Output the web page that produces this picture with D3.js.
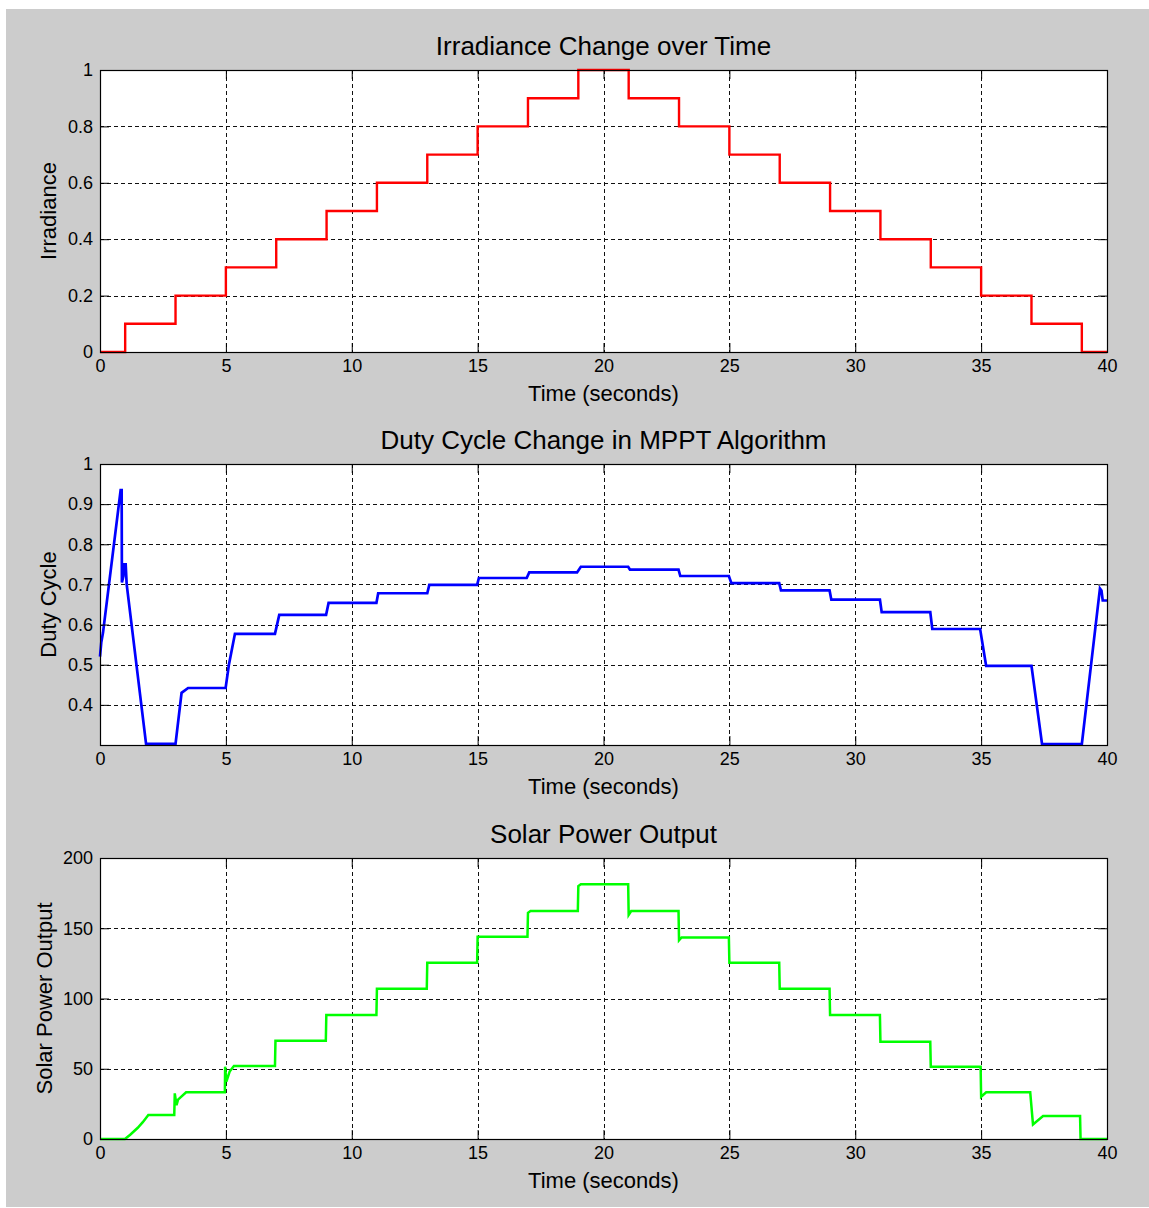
<!DOCTYPE html>
<html>
<head>
<meta charset="utf-8">
<script src="https://cdn.jsdelivr.net/npm/d3@7"></script>
<style>
  html, body { margin: 0; padding: 0; background: #ffffff; }
  svg { display: block; }
  text { font-family: "Liberation Sans", Arial, sans-serif; fill: #000; }
</style>
</head>
<body>
<svg id="chart" width="1149" height="1208"></svg>
<script>
// ---------- DATA ----------
const xTicks = [0, 5, 10, 15, 20, 25, 30, 35, 40];

// Irradiance (step after)
const irrTime  = [0, 1, 3, 5, 7, 9, 11, 13, 15, 17, 19, 21, 23, 25, 27, 29, 31, 33, 35, 37, 39, 40];
const irrValue = [0, 0.1, 0.2, 0.3, 0.4, 0.5, 0.6, 0.7, 0.8, 0.9, 1.0, 0.9, 0.8, 0.7, 0.6, 0.5, 0.4, 0.3, 0.2, 0.1, 0, 0];
const irrTicks = [0, 0.2, 0.4, 0.6, 0.8, 1];
const irrTickLabels = ["0", "0.2", "0.4", "0.6", "0.8", "1"];

// Duty cycle
const dutyTime  = [0, 0.05, 0.12, 0.82, 0.86, 0.87, 0.93, 0.96, 1.02, 1.06, 1.83, 3.0, 3.24, 3.5, 4.99, 5.12, 5.36, 6.95, 7.12,
                   8.98, 9.08, 10.98, 11.05, 13.0, 13.08, 14.98, 15.05, 16.95, 17.05, 18.95, 19.1, 20.98, 21.05,
                   22.98, 23.05, 24.98, 25.08, 26.98, 27.05, 28.98, 29.05, 30.98, 31.05, 32.98, 33.06, 34.96, 35.2,
                   37.0, 37.42, 39.0, 39.72, 39.78, 39.83, 40];
const dutyValue = [0.52, 0.555, 0.58, 0.935, 0.935, 0.705, 0.72, 0.75, 0.75, 0.70, 0.303, 0.303, 0.43, 0.442, 0.442, 0.50, 0.577, 0.577, 0.624,
                   0.624, 0.654, 0.654, 0.678, 0.678, 0.699, 0.699, 0.716, 0.716, 0.730, 0.730, 0.744, 0.744, 0.737,
                   0.737, 0.721, 0.721, 0.703, 0.703, 0.685, 0.685, 0.662, 0.662, 0.631, 0.631, 0.589, 0.589, 0.497,
                   0.497, 0.302, 0.302, 0.69, 0.685, 0.66, 0.66];
const dutyTicks = [0.4, 0.5, 0.6, 0.7, 0.8, 0.9, 1];
const dutyTickLabels = ["0.4", "0.5", "0.6", "0.7", "0.8", "0.9", "1"];

// Solar power output
const powTime  = [0, 0.99, 1.2, 1.5, 1.7, 1.92, 2.95, 2.97, 3.04, 3.1, 3.42, 4.96, 4.97, 5.02, 5.15, 5.32, 6.95, 6.97,
                  8.97, 8.99, 10.98, 11.0, 12.98, 13.0, 14.98, 15.0, 16.98, 17.0, 17.1, 18.98, 19.0, 19.1, 20.98, 21.0, 21.1,
                  22.98, 23.0, 23.1, 24.98, 25.0, 26.98, 27.0, 28.98, 29.0, 30.98, 31.0, 32.98, 33.0, 34.98, 35.0, 35.2,
                  36.95, 37.06, 37.46, 38.93, 38.95, 40];
const powValue = [0, 0, 3, 8, 12, 17.1, 17.1, 32.5, 24, 28, 33.2, 33.2, 51.5, 40.8, 48, 52, 52, 70,
                  70, 88.3, 88.3, 107, 107, 125.5, 125.5, 144, 144, 161, 162.3, 162.3, 180, 181.3, 181.3, 159.5, 162.3,
                  162.3, 141.5, 143.5, 143.5, 125.5, 125.5, 107, 107, 88.3, 88.3, 69.3, 69.3, 51.5, 51.5, 30.1, 33.2,
                  33.2, 10.4, 16.4, 16.4, 0, 0];
const powTicks = [0, 50, 100, 150, 200];
const powTickLabels = ["0", "50", "100", "150", "200"];

// ---------- DRAW ----------
const svg = d3.select("#chart");
svg.append("rect").attr("x", 6).attr("y", 9).attr("width", 1143).attr("height", 1198).attr("fill", "#cccccc");

const left = 100, right = 1107;
const x = d3.scaleLinear().domain([0, 40]).range([left, right]);

function panel(opts) {
  const { top, bottom, yDomain, yTicks, yLabels, times, values, color, width, curve, title, ylabel, ylabelX } = opts;
  const y = d3.scaleLinear().domain(yDomain).range([bottom, top]);
  const g = svg.append("g");
  g.append("rect").attr("x", left).attr("y", top).attr("width", right - left).attr("height", bottom - top).attr("fill", "#fff");

  // grid
  const grid = g.append("g").attr("stroke", "#111").attr("stroke-width", 1).attr("stroke-dasharray", "4,3").attr("shape-rendering", "crispEdges");
  xTicks.slice(1, -1).forEach(t => grid.append("line").attr("x1", Math.round(x(t)) + 0.5).attr("x2", Math.round(x(t)) + 0.5).attr("y1", top).attr("y2", bottom));
  yTicks.forEach(t => { if (y(t) > top + 1 && y(t) < bottom - 1) grid.append("line").attr("y1", Math.round(y(t)) + 0.5).attr("y2", Math.round(y(t)) + 0.5).attr("x1", left).attr("x2", right); });

  // data line
  const data = times.map((t, i) => [t, values[i]]);
  g.append("path").datum(data)
    .attr("d", d3.line().x(d => x(d[0])).y(d => y(d[1])).curve(curve))
    .attr("fill", "none").attr("stroke", color).attr("stroke-width", width).attr("stroke-linejoin", "miter");

  // axes (ticks inward on all sides)
  const tl = 9;
  const axB = g.append("g").attr("transform", `translate(0,${bottom})`)
    .call(d3.axisBottom(x).tickValues(xTicks).tickSize(-tl).tickPadding(7).tickFormat(d3.format("d")));
  const axT = g.append("g").attr("transform", `translate(0,${top})`)
    .call(d3.axisTop(x).tickValues(xTicks).tickSize(-tl).tickFormat(""));
  const axL = g.append("g").attr("transform", `translate(${left},0)`)
    .call(d3.axisLeft(y).tickValues(yTicks).tickSize(-tl).tickPadding(7).tickFormat((d, i) => yLabels[i]));
  const axR = g.append("g").attr("transform", `translate(${right},0)`)
    .call(d3.axisRight(y).tickValues(yTicks).tickSize(-tl).tickFormat(""));
  [axB, axT, axL, axR].forEach(a => {
    a.select(".domain").remove();
    a.selectAll("line").attr("stroke", "#000");
    a.selectAll("text").attr("font-size", 18).attr("font-family", '"Liberation Sans", Arial, sans-serif').attr("fill", "#000");
  });
  axB.selectAll("text").attr("dy", "0.71em");

  g.append("rect").attr("x", left + 0.5).attr("y", top + 0.5).attr("width", right - left).attr("height", bottom - top)
    .attr("fill", "none").attr("stroke", "#000").attr("stroke-width", 1.2);

  g.append("text").attr("x", (left + right) / 2).attr("y", top - 15).attr("text-anchor", "middle")
    .attr("font-size", 26).text(title);
  g.append("text").attr("x", (left + right) / 2).attr("y", bottom + 49).attr("text-anchor", "middle")
    .attr("font-size", 22).text("Time (seconds)");
  g.append("text").attr("transform", `translate(${ylabelX},${(top + bottom) / 2}) rotate(-90)`).attr("text-anchor", "middle")
    .attr("font-size", 22).text(ylabel);
}

panel({ top: 70, bottom: 352, yDomain: [0, 1], yTicks: irrTicks, yLabels: irrTickLabels, times: irrTime, values: irrValue,
  color: "#ff0000", width: 2.4, curve: d3.curveStepAfter, title: "Irradiance Change over Time", ylabel: "Irradiance", ylabelX: 56 });
panel({ top: 464, bottom: 745, yDomain: [0.3, 1], yTicks: dutyTicks, yLabels: dutyTickLabels, times: dutyTime, values: dutyValue,
  color: "#0000ff", width: 2.7, curve: d3.curveLinear, title: "Duty Cycle Change in MPPT Algorithm", ylabel: "Duty Cycle", ylabelX: 56 });
panel({ top: 858, bottom: 1139, yDomain: [0, 200], yTicks: powTicks, yLabels: powTickLabels, times: powTime, values: powValue,
  color: "#00ff00", width: 2.5, curve: d3.curveLinear, title: "Solar Power Output", ylabel: "Solar Power Output", ylabelX: 52 });
</script>
</body>
</html>
